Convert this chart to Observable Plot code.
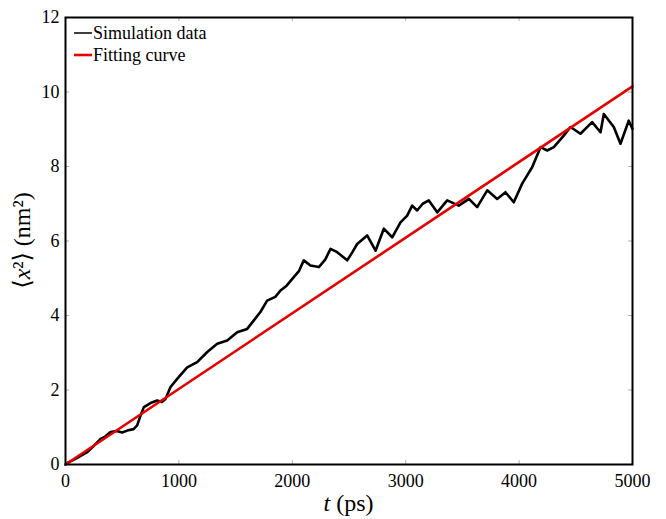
<!DOCTYPE html>
<html>
<head>
<meta charset="utf-8">
<script src="https://cdn.jsdelivr.net/npm/d3@7"></script>
<script src="https://cdn.jsdelivr.net/npm/@observablehq/plot@0.6"></script>
<style>
  html, body { margin: 0; padding: 0; background: #fff; }
  #chart svg { display: block; }
  #chart svg text.extra { font-family: "Liberation Serif", "DejaVu Serif", serif; }
</style>
</head>
<body>
<div id="chart"></div>
<script>
// Simulation data: time (ps) and mean squared displacement (nm^2)
const simT = [0, 9, 100, 191, 250, 309, 350, 397, 450, 500, 544, 600, 632, 660, 691, 750, 808, 850, 882, 926, 985, 1073, 1161, 1250, 1338, 1426, 1514, 1602, 1661, 1720, 1778, 1850, 1896, 1950, 2013, 2060, 2101, 2160, 2234, 2290, 2337, 2396, 2484, 2530, 2572, 2660, 2734, 2807, 2881, 2954, 3013, 3057, 3101, 3150, 3204, 3278, 3366, 3468, 3557, 3630, 3719, 3807, 3880, 3953, 4027, 4115, 4189, 4248, 4306, 4394, 4453, 4541, 4644, 4718, 4747, 4835, 4894, 4967, 5000];
const simV = [0, 0.03, 0.17, 0.33, 0.5, 0.69, 0.75, 0.87, 0.9, 0.86, 0.91, 0.95, 1.05, 1.3, 1.54, 1.65, 1.72, 1.68, 1.76, 2.08, 2.3, 2.61, 2.75, 3.02, 3.24, 3.33, 3.55, 3.64, 3.87, 4.1, 4.4, 4.5, 4.67, 4.8, 5.03, 5.2, 5.48, 5.34, 5.3, 5.5, 5.79, 5.7, 5.48, 5.7, 5.92, 6.15, 5.74, 6.33, 6.1, 6.5, 6.68, 6.95, 6.82, 7.0, 7.09, 6.77, 7.09, 6.95, 7.13, 6.91, 7.36, 7.13, 7.31, 7.04, 7.54, 7.98, 8.52, 8.43, 8.52, 8.83, 9.06, 8.88, 9.19, 8.92, 9.41, 9.06, 8.61, 9.23, 9.01];
// Fitting curve (linear)
const fitT = [0, 5000];
const fitV = [0, 10.15];
// Ticks
const xTicks = [0, 1000, 2000, 3000, 4000, 5000];
const yTicks = [0, 2, 4, 6, 8, 10, 12];
const legendLabels = ["Simulation data", "Fitting curve"];
const seriesColors = ["#000000", "#e60000"];

const sim = simT.map((t, i) => ({t, v: simV[i]}));
const fit = fitT.map((t, i) => ({t, v: fitV[i]}));

const W = 666, H = 519;
const mL = 65, mR = 34, mT = 17, mB = 55;
const innerH = H - mT - mB, innerW = W - mL - mR;
const tickLen = 4;
const tickColor = "#b0b0b0";
const font = "'Liberation Serif', 'DejaVu Serif', serif";

const plot = Plot.plot({
  width: W, height: H,
  marginLeft: mL, marginRight: mR, marginTop: mT, marginBottom: mB,
  style: {fontFamily: font, fontSize: "18px", color: "#000", background: "#fff"},
  x: {domain: [0, 5000], axis: null},
  y: {domain: [0, 12], axis: null},
  marks: [
    // inward ticks on all four sides
    Plot.tickX(xTicks, {x: d => d, insetTop: innerH - tickLen, stroke: tickColor}),
    Plot.tickX(xTicks, {x: d => d, insetBottom: innerH - tickLen, stroke: tickColor}),
    Plot.tickY(yTicks, {y: d => d, insetRight: innerW - tickLen, stroke: tickColor}),
    Plot.tickY(yTicks, {y: d => d, insetLeft: innerW - tickLen, stroke: tickColor}),
    Plot.axisX({ticks: xTicks, tickSize: 0, tickPadding: 10, fontSize: 18, tickFormat: d => String(d), label: null}),
    Plot.axisY({ticks: yTicks, tickSize: 0, tickPadding: 6, fontSize: 18, tickFormat: d => String(d), label: null}),
    Plot.line(sim, {x: "t", y: "v", stroke: seriesColors[0], strokeWidth: 2.6, curve: "linear"}),
    Plot.line(fit, {x: "t", y: "v", stroke: seriesColors[1], strokeWidth: 2.6}),
    Plot.frame({stroke: "#000", strokeWidth: 2})
  ]
});

document.getElementById("chart").appendChild(plot);

const svg = d3.select(plot);

// Legend inside top-left
legendLabels.forEach((lab, i) => {
  const y = 33 + i * 22;
  svg.append("line")
    .attr("x1", mL + 9).attr("x2", mL + 27)
    .attr("y1", y).attr("y2", y)
    .attr("stroke", seriesColors[i])
    .attr("stroke-width", i === 0 ? 1.5 : 2.6);
  svg.append("text")
    .attr("class", "extra")
    .attr("x", mL + 28).attr("y", y)
    .attr("dy", "0.35em")
    .style("text-anchor", "start")
    .style("font-size", "18px")
    .style("fill", "#000")
    .text(lab);
});

// X axis title
const xt = svg.append("text")
  .attr("class", "extra")
  .attr("x", mL + innerW / 2).attr("y", 511)
  .style("text-anchor", "middle")
  .style("font-size", "24px")
  .style("fill", "#000");
xt.append("tspan").style("font-style", "italic").text("t");
xt.append("tspan").text(" (ps)");

// Y axis title
const yt = svg.append("text")
  .attr("class", "extra")
  .attr("transform", `translate(30, ${mT + innerH / 2}) rotate(-90)`)
  .style("text-anchor", "middle")
  .style("font-size", "24px")
  .style("fill", "#000");
yt.append("tspan").text("\u27E8");
yt.append("tspan").style("font-style", "italic").text("x");
yt.append("tspan").text("\u00B2\u27E9 (nm\u00B2)");
</script>
</body>
</html>
